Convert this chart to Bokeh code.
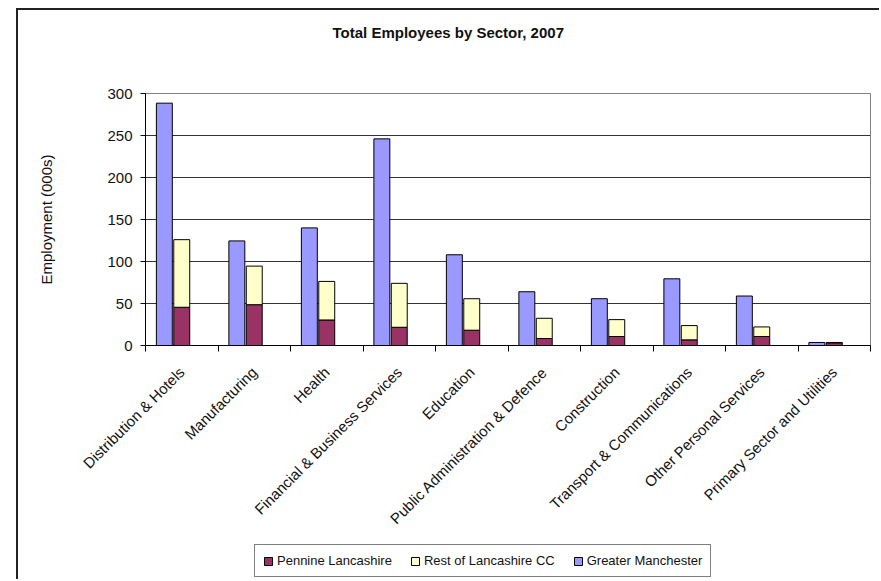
import numpy as np
from math import pi
from bokeh.plotting import figure
from bokeh.layouts import column
from bokeh.models import (ColumnDataSource, Range1d, FixedTicker, Legend, LegendItem,
                          Title)
from bokeh.transform import dodge
from bokeh.embed import file_html
from bokeh.resources import INLINE

sectors = ["Distribution & Hotels", "Manufacturing", "Health",
           "Financial & Business Services", "Education",
           "Public Administration & Defence", "Construction",
           "Transport & Communications", "Other Personal Services",
           "Primary Sector and Utilities"]
greater_manchester = [288.5, 124.5, 140, 246, 108, 64, 55.7, 79.4, 58.9, 3.6]
pennine_lancashire = [45.5, 48.6, 30.4, 21.7, 18.2, 8.3, 10.7, 6.7, 10.7, 3.2]
rest_of_lancashire = [80.5, 45.9, 45.9, 52.3, 37.5, 24.1, 20.1, 17.0, 11.4, 0.4]
series_names = ["Pennine Lancashire", "Rest of Lancashire CC", "Greater Manchester"]
series_colors = ["#993366", "#FFFFCC", "#9999FF"]
y_ticks = [0, 50, 100, 150, 200, 250, 300]

pos = list(range(1, len(sectors) + 1))
src = ColumnDataSource(dict(pos=pos, gm=greater_manchester,
                            pen=pennine_lancashire, rest=rest_of_lancashire))

FONT = "Liberation Sans"
TXT = "#111111"

p = figure(width=863, height=526, output_backend="svg", toolbar_location=None,
           x_range=Range1d(0.5, len(sectors) + 0.5), y_range=Range1d(0, 300),
           min_border_left=127, min_border_right=11, min_border_top=83,
           min_border_bottom=190)
p.styles = {"border-left": "2px solid #222", "border-top": "2px solid #222"}

gm_r = p.vbar(x=dodge("pos", -0.24, range=p.x_range), top="gm", width=0.22, source=src,
              fill_color=series_colors[2], line_color="#000000", line_width=1)
stack = p.vbar_stack(["pen", "rest"], x="pos", width=0.22, source=src,
                     fill_color=series_colors[:2], line_color="#000000",
                     line_width=1)

p.outline_line_color = "#808080"
p.xgrid.visible = False
p.ygrid.ticker = FixedTicker(ticks=y_ticks)
p.ygrid.grid_line_color = "#333333"

ya = p.yaxis[0]
ya.ticker = FixedTicker(ticks=y_ticks)
ya.axis_line_color = "#000000"
ya.major_tick_line_color = "#000000"
ya.major_tick_out = 5
ya.major_tick_in = 0
ya.minor_tick_out = 0
ya.minor_tick_in = 0
ya.major_label_text_font = FONT
ya.major_label_text_font_size = "15px"
ya.major_label_text_color = TXT
ya.major_label_standoff = 8
ya.axis_label = "Employment (000s)"
ya.axis_label_text_font = FONT
ya.axis_label_text_font_size = "15px"
ya.axis_label_text_font_style = "normal"
ya.axis_label_text_color = TXT
ya.axis_label_standoff = 49

xa = p.xaxis[0]
xa.ticker = FixedTicker(ticks=pos, minor_ticks=[i + 0.5 for i in range(len(sectors) + 1)])
xa.major_label_overrides = {i: s for i, s in zip(pos, sectors)}
xa.major_label_orientation = pi / 4
xa.major_tick_out = 0
xa.major_tick_in = 0
xa.minor_tick_out = 6
xa.minor_tick_in = 0
xa.minor_tick_line_color = "#000000"
xa.axis_line_color = "#000000"
xa.major_label_text_font = FONT
xa.major_label_text_font_size = "15px"
xa.major_label_text_color = TXT
xa.major_label_standoff = 18

# spacer between title and plot area (closest to the frame)
p.add_layout(Title(text=" ", text_font_size="10px", standoff=40), "above")
p.title.text = "Total Employees by Sector, 2007"
p.title.align = "left"
p.title.offset = 187
p.title.text_font = FONT
p.title.text_font_size = "15px"
p.title.text_font_style = "bold"
p.title.text_color = TXT
p.title.standoff = 0

# legend strip below the chart (its bars lie outside its visible range)
lg = figure(width=863, height=45, output_backend="svg", toolbar_location=None,
            x_axis_type=None, y_axis_type=None, x_range=Range1d(0, 1),
            y_range=Range1d(1000, 1001), min_border=0)
lg.outline_line_color = None
lg.styles = {"border-left": "2px solid #222"}
lg_cols = ["pen", "rest", "gm"]
lg_r = [lg.vbar(x="pos", top=col, width=0.22, source=src, fill_color=c,
                line_color="#000000")
        for col, c in zip(lg_cols, series_colors)]

legend = Legend(items=[LegendItem(label=n, renderers=[r])
                       for n, r in zip(series_names, lg_r)],
                orientation="horizontal", location=(109, 2))
legend.label_text_font = FONT
legend.label_text_font_size = "13px"
legend.label_text_color = TXT
legend.glyph_width = 10
legend.glyph_height = 10
legend.label_standoff = 4
legend.spacing = 18
legend.padding = 8
legend.margin = 0
legend.border_line_color = "#000000"
legend.border_line_width = 1
legend.background_fill_color = "white"
lg.add_layout(legend, "center")

layout = column(p, lg, styles={"transform": "translate(16px, 8px)"})

open("out.html", "w").write(file_html(layout, INLINE))
